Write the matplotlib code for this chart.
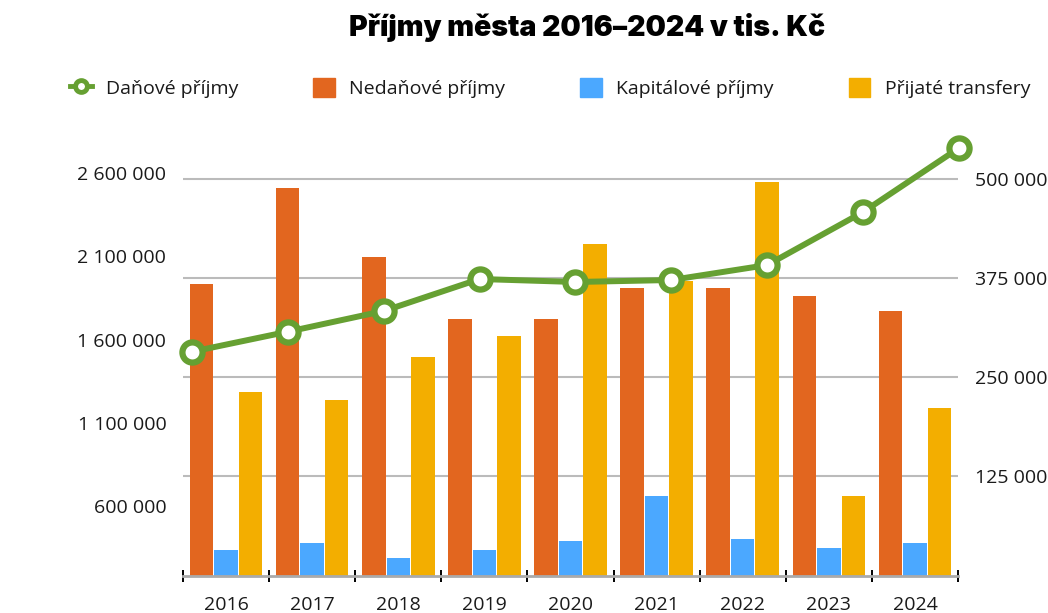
import matplotlib
matplotlib.use("Agg")
import matplotlib.pyplot as plt
from matplotlib.lines import Line2D
from matplotlib.patches import Patch

# --------------------------
# DATA
# --------------------------
years = ["2016", "2017", "2018", "2019", "2020", "2021", "2022", "2023", "2024"]
danove = [1526600, 1647000, 1771500, 1964000, 1946000, 1958000, 2048000, 2367000, 2752000]
nedanove = [367700, 488800, 401800, 323500, 323500, 362700, 362700, 352600, 333600]
kapitalove = [32000, 41000, 22500, 32000, 43500, 100000, 46000, 34700, 41000]
transfery = [231500, 221400, 275600, 302000, 418000, 372000, 496000, 100000, 211000]

left_ticks = [600000, 1100000, 1600000, 2100000, 2600000]
right_ticks = [125000, 250000, 375000, 500000]

# --------------------------
# STYLE
# --------------------------
GREEN = "#66A032"
ORANGE = "#E2661F"
BLUE = "#4BA8FF"
YELLOW = "#F3AE00"
GRID = "#BBBBBB"
TXT = "#1A1A1A"
FS = 14

plt.rcParams["font.family"] = ["Open Sans", "DejaVu Sans"]


def fmt(v):
    return f"{v:,}".replace(",", " ")


fig = plt.figure(figsize=(10.48, 6.13), dpi=100)
pos = [183 / 1048, 1 - 575.5 / 613, 775 / 1048, 436 / 613]

# bars (right axis)
ax = fig.add_axes(pos)
x = list(range(len(years)))
step = 0.2845
w = 0.273
ax.bar([i - step for i in x], nedanove, w, color=ORANGE, zorder=2)
ax.bar(x, kapitalove, w, color=BLUE, zorder=2)
ax.bar([i + step for i in x], transfery, w, color=YELLOW, zorder=2)

ax.set_xlim(-0.5, 8.5)
ax.set_ylim(0, 550000)
ax.yaxis.tick_right()
ax.set_yticks(right_ticks)
ax.set_yticklabels([fmt(v) for v in right_ticks])
ax.tick_params(axis="y", length=0, pad=12, labelsize=FS, labelcolor=TXT)
ax.grid(axis="y", color=GRID, lw=1.5, zorder=1)
ax.set_axisbelow(True)

ax.set_xticks(x)
ax.set_xticklabels(years)
ax.set_xticks([i - 0.5 for i in range(len(years) + 1)], minor=True)
ax.tick_params(axis="x", which="major", length=0, pad=15, labelsize=FS, labelcolor=TXT)
ax.tick_params(axis="x", which="minor", length=9, width=1.4, direction="inout", color="black")
for s in ["top", "left", "right"]:
    ax.spines[s].set_visible(False)
ax.spines["bottom"].set_color("#AAAAAA")
ax.spines["bottom"].set_linewidth(2)

# line (left axis)
ax2 = fig.add_axes(pos)
ax2.patch.set_visible(False)
for s in ax2.spines.values():
    s.set_visible(False)
ax2.plot(range(len(years)), danove, color=GREEN, lw=4.3, marker="o", ms=14.5,
         mfc="white", mec=GREEN, mew=4.5, clip_on=False, zorder=5)
ax2.set_xlim(-0.0939, 7.99)
ax2.set_ylim(180000, 2803400)
ax2.set_xticks([])
ax2.set_yticks(left_ticks)
ax2.set_yticklabels([fmt(v) for v in left_ticks])
ax2.tick_params(axis="y", length=0, pad=12, labelsize=FS, labelcolor=TXT)

# title + legend
fig.text(0.56, 1 - 27 / 613, "Příjmy města 2016–2024 v tis. Kč", ha="center", va="center",
         fontsize=20.5, fontweight="black", family=["Inter", "DejaVu Sans"], color="black")

handles = [
    Line2D([0], [0], color=GREEN, lw=3.5, marker="o", ms=8.5, mfc="white", mec=GREEN, mew=3.5),
    Patch(color=ORANGE),
    Patch(color=BLUE),
    Patch(color=YELLOW),
]
labels = ["Daňové příjmy", "Nedaňové příjmy", "Kapitálové příjmy", "Přijaté transfery"]
fig.legend(handles, labels, loc="center", bbox_to_anchor=(0.525, 1 - 88 / 613), ncol=4,
           frameon=False, fontsize=FS, handlelength=1.1, handleheight=1.1,
           handletextpad=0.75, columnspacing=3.85, labelcolor=TXT)

plt.savefig("out.png", dpi=100)
plt.close()
